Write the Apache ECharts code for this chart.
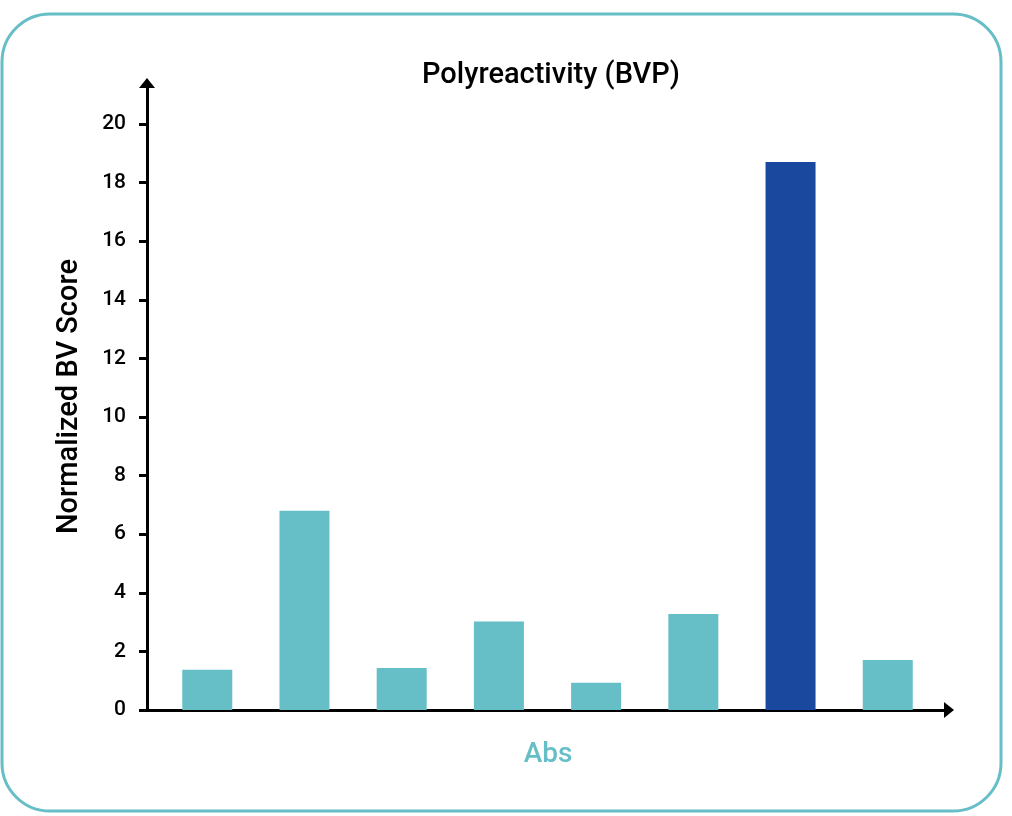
<!DOCTYPE html>
<html>
<head>
<meta charset="utf-8">
<script src="https://cdn.jsdelivr.net/npm/echarts@6/dist/echarts.min.js"></script>
<style>
  html, body { margin: 0; padding: 0; background: #fff; }
  #chart { width: 1012px; height: 816px; }
</style>
</head>
<body>
<div id="chart"></div>
<script>
// Chart data
var antibodies = ['Ab1', 'Ab2', 'Ab3', 'Ab4', 'Ab5', 'Ab6', 'Ab7', 'Ab8'];
var bvScores = [1.37, 6.8, 1.43, 3.02, 0.93, 3.28, 18.7, 1.71];
var highlighted = [false, false, false, false, false, false, true, false];
var yTicks = [0, 2, 4, 6, 8, 10, 12, 14, 16, 18, 20];

var teal = '#66BEC7';
var navy = '#1A489E';

var myChart = echarts.init(document.getElementById('chart'));

// bars placed by index on a value x axis so the axis line can run past them
var barData = [];
for (var i = 0; i < antibodies.length; i++) {
    barData.push({
        name: antibodies[i],
        value: [i, bvScores[i]],
        itemStyle: { color: highlighted[i] ? navy : teal }
    });
}

var option = {
    backgroundColor: '#fff',
    textStyle: { fontFamily: 'Roboto' },
    title: {
        text: 'Polyreactivity (BVP)',
        left: 546,
        top: 56,
        textAlign: 'center',
        textStyle: { fontFamily: 'Roboto', fontSize: 29, fontWeight: 500, color: '#000' }
    },
    graphic: [{
        type: 'rect',
        shape: { x: 2, y: 14, width: 999, height: 797, r: 48 },
        style: { fill: 'none', stroke: teal, lineWidth: 3 },
        silent: true
    }],
    grid: { left: 147, right: 63, top: 83, bottom: 106 },
    xAxis: {
        type: 'value',
        min: -0.62,
        max: 7.63,
        name: 'Abs',
        nameLocation: 'middle',
        nameGap: 31,
        nameTextStyle: { fontFamily: 'Roboto', fontSize: 28, fontWeight: 500, color: teal },
        axisLine: {
            show: true,
            symbol: ['none', 'triangle'],
            symbolSize: [16, 10],
            lineStyle: { color: '#000', width: 3 }
        },
        axisTick: { show: false },
        axisLabel: { show: false },
        splitLine: { show: false }
    },
    yAxis: {
        type: 'value',
        min: 0,
        max: 21.4,
        name: 'Normalized BV Score',
        nameLocation: 'middle',
        nameGap: 63,
        nameTextStyle: { fontFamily: 'Roboto', fontSize: 29, fontWeight: 500, color: '#000' },
        axisLine: {
            show: true,
            onZero: false,
            symbol: ['none', 'triangle'],
            symbolSize: [16, 10],
            lineStyle: { color: '#000', width: 3 }
        },
        axisTick: {
            show: true,
            length: 8,
            customValues: yTicks,
            lineStyle: { color: '#000', width: 3 }
        },
        axisLabel: {
            customValues: yTicks,
            margin: 21,
            fontFamily: 'Roboto',
            fontSize: 21,
            fontWeight: 500,
            color: '#000'
        },
        splitLine: { show: false }
    },
    series: [{
        type: 'bar',
        barWidth: 50,
        data: barData
    }]
};

myChart.setOption(option);
</script>
</body>
</html>
